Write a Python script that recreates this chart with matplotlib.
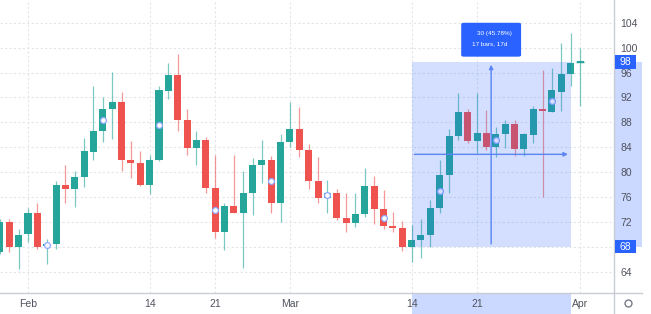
import matplotlib.pyplot as plt
import matplotlib.dates as mdates
import matplotlib.transforms as mtransforms
from matplotlib.patches import Rectangle, FancyBboxPatch
from matplotlib.lines import Line2D
import pandas as pd
import numpy as np

plt.rcParams['font.family'] = ['Liberation Sans', 'DejaVu Sans']

# datos diarios (29 ene - 1 abr)
dates = pd.date_range('2022-01-29', '2022-04-01', freq='D')
opens = [67.2, 71.9, 68.0, 70.0, 73.5, 68.1, 68.5, 77.9, 77.3, 79.2, 83.3, 86.6, 90.1,
         91.3, 81.9, 81.5, 78.0, 82.0, 93.1, 95.6, 88.4, 83.8, 85.2, 77.5, 70.3, 74.6,
         73.5, 76.6, 81.1, 81.9, 75.1, 84.8, 87.0, 83.5, 78.6, 75.9, 76.7, 72.6, 71.8,
         73.2, 77.8, 74.0, 71.4, 71.0, 68.0, 69.1, 69.9, 74.2, 79.6, 85.8, 89.7, 85.0,
         86.3, 84.1, 86.1, 87.8, 83.7, 86.0, 90.1, 89.7, 92.9, 95.8, 97.6]
highs = [72.5, 72.4, 70.8, 74.2, 75.0, 69.3, 78.5, 81.2, 80.1, 85.4, 93.8, 92.1, 96.1,
         92.9, 85.0, 83.4, 82.7, 93.8, 97.5, 99.0, 90.2, 86.6, 85.7, 82.7, 75.0, 82.7,
         80.1, 82.2, 85.2, 82.6, 86.1, 91.2, 90.5, 84.5, 82.4, 78.8, 77.3, 76.6, 76.7,
         80.6, 79.3, 77.1, 73.6, 72.1, 71.5, 72.4, 75.5, 81.9, 87.0, 92.7, 90.2, 92.7,
         90.0, 87.3, 88.4, 88.4, 86.3, 90.6, 96.4, 96.7, 100.7, 102.3, 99.9]
lows = [66.8, 67.1, 64.4, 68.8, 67.7, 65.2, 67.6, 75.1, 74.4, 77.6, 81.9, 84.9, 85.3,
        80.1, 79.1, 77.8, 76.4, 81.7, 91.7, 86.6, 82.7, 81.1, 76.7, 69.4, 67.4, 73.5,
        64.6, 73.1, 78.3, 73.4, 71.9, 84.1, 82.5, 77.2, 75.0, 73.4, 72.3, 70.4, 71.2,
        72.7, 71.6, 70.9, 70.4, 67.3, 65.6, 66.2, 68.0, 73.4, 76.7, 85.2, 84.6, 83.0,
        83.5, 82.5, 83.8, 82.6, 82.6, 84.6, 76.0, 89.7, 89.8, 93.8, 90.6]
closes = [72.0, 68.0, 69.9, 73.5, 67.9, 68.4, 77.9, 77.3, 79.2, 83.4, 86.6, 90.2, 91.3,
          81.9, 81.5, 78.0, 82.0, 93.2, 95.6, 88.4, 83.8, 85.2, 77.5, 70.3, 74.6, 73.5,
          76.6, 81.1, 81.9, 75.1, 84.8, 87.0, 83.5, 78.6, 75.8, 76.7, 72.6, 71.8, 73.2,
          77.8, 74.0, 71.3, 71.0, 68.0, 69.1, 69.9, 74.2, 79.6, 85.8, 89.7, 85.0, 86.3,
          84.1, 86.1, 87.8, 83.7, 86.1, 90.1, 89.9, 93.2, 95.8, 97.6, 97.7]

marker_dates = ['2022-02-03', '2022-02-09', '2022-02-15', '2022-02-21', '2022-02-27',
                '2022-03-05', '2022-03-11', '2022-03-17', '2022-03-23', '2022-03-29']

tick_dates = ['2022-02-01', '2022-02-14', '2022-02-21', '2022-03-01',
              '2022-03-14', '2022-03-21', '2022-04-01']
tick_labels = ['Feb', '14', '21', 'Mar', '14', '21', 'Apr']
price_ticks = list(range(64, 105, 4))

# rango de medicion
meas_start, meas_end = '2022-03-14', '2022-03-31'
meas_low, meas_high = 68.0, 97.7
meas_text = ['30 (45.78%)', '17 bars, 17d']

UP = '#26a69a'
DOWN = '#ef5350'
BLUE = '#2962ff'

fig = plt.figure(figsize=(6.51, 3.14), dpi=100)
ax = fig.add_axes([0, 21 / 314, 614 / 651, 293 / 314])

x = mdates.date2num(dates)
o = np.array(opens)
h = np.array(highs)
l = np.array(lows)
c = np.array(closes)
cols = [UP if cc >= oo else DOWN for oo, cc in zip(o, c)]

ax.vlines(x, l, h, colors=cols, lw=0.9, alpha=0.6, zorder=2)
body = c - o
body = np.where(np.abs(body) < 0.25, np.where(body >= 0, 0.25, -0.25), body)
ax.bar(x, body, bottom=o, width=0.75, color=cols, zorder=3)

# marcadores
mk = mdates.date2num(pd.to_datetime(marker_dates))
idx = [list(x).index(m) for m in mk]
ax.plot(mk, (o[idx] + c[idx]) / 2, 'o', ms=4.2, mfc='white', mec='#8fa8ff',
        mew=0.9, zorder=4, ls='none')

# ejes
f0 = mdates.date2num(pd.Timestamp('2022-02-01'))
ax.set_xlim(f0 - 2.993, f0 + 62.63)
ax.set_ylim(60.56, 107.66)
ax.set_xticks(mdates.date2num(pd.to_datetime(tick_dates)))
ax.set_xticklabels(tick_labels)
ax.set_yticks(price_ticks)
ax.yaxis.tick_right()
ax.tick_params(length=0, labelsize=7.5, colors='#50535e')
ax.tick_params(axis='x', pad=4)
ax.tick_params(axis='y', pad=4.5)
ax.grid(True, color='#e3e5ea', lw=0.8, ls=(0, (2, 2)), zorder=0)
ax.set_axisbelow(True)
for s in ['top', 'left']:
    ax.spines[s].set_visible(False)
for s in ['right', 'bottom']:
    ax.spines[s].set_color('#c9ccd4')
    ax.spines[s].set_linewidth(1)

# zona de medicion
xs = mdates.date2num(pd.Timestamp(meas_start))
xe = mdates.date2num(pd.Timestamp(meas_end))
ax.add_patch(Rectangle((xs, meas_low), xe - xs, meas_high - meas_low,
                       facecolor=BLUE, alpha=0.2, lw=0, zorder=5))
xm = (xs + xe) / 2
ym = (meas_low + meas_high) / 2
ax.annotate('', xy=(xm, meas_high), xytext=(xm, meas_low),
            arrowprops=dict(arrowstyle='-|>', color='#5b84f5', lw=1,
                            mutation_scale=6), zorder=6)
ax.annotate('', xy=(xe, ym), xytext=(xs, ym),
            arrowprops=dict(arrowstyle='-|>', color='#5b84f5', lw=1,
                            mutation_scale=6), zorder=6)

# cuadro de info
bw, bh = 6.4, 5.45
ax.add_patch(FancyBboxPatch((xm - bw / 2, 98.55), bw, bh,
                            boxstyle='round,pad=0,rounding_size=0.3',
                            mutation_aspect=0.7, facecolor=BLUE, lw=0, zorder=7))
ax.text(xm + 0.3, 102.2, meas_text[0], color='white', fontsize=4.6,
        ha='center', va='center', zorder=8)
ax.text(xm - 0.2, 100.6, meas_text[1], color='white', fontsize=4.6,
        ha='center', va='center', zorder=8)

# resaltados en los ejes
tr_y = mtransforms.blended_transform_factory(fig.transFigure, ax.transData)
tr_x = mtransforms.blended_transform_factory(ax.transData, fig.transFigure)
fig.add_artist(Rectangle((614 / 651, meas_low), 28 / 651, meas_high - meas_low,
                         transform=tr_y, facecolor='#cbd8ff', lw=0, zorder=-1))
fig.add_artist(Rectangle((xs, 0), xe - xs, 20 / 314,
                         transform=tr_x, facecolor='#cbd8ff', lw=0, zorder=-1))

for val, lab in [(meas_high, '98'), (meas_low, '68')]:
    fig.add_artist(Rectangle((614.5 / 651, val - 1.07), 21 / 651, 2.14,
                             transform=tr_y, facecolor=BLUE, lw=0, zorder=2))
    fig.text(625 / 651, val, lab, transform=tr_y, color='white', fontsize=7.5,
             ha='center', va='center', zorder=3)

# ultimo precio
ax.hlines(c[-1], x[-1] - 0.4, x[-1] + 0.4, colors=UP, lw=1, zorder=4)

# lineas de separacion fuera del area
fig.add_artist(Line2D([614 / 651, 614 / 651], [0, 21 / 314], color='#c9ccd4',
                      lw=1, transform=fig.transFigure))
fig.add_artist(Line2D([614 / 651, 642 / 651], [21 / 314, 21 / 314], color='#c9ccd4',
                      lw=1, transform=fig.transFigure))

# icono de ajustes
fig.add_artist(Line2D([628 / 651], [11 / 314], marker='o', ms=5, mfc='white',
                      mec='#787b86', mew=1, transform=fig.transFigure))

plt.savefig('out.png', dpi=100)
plt.close()
